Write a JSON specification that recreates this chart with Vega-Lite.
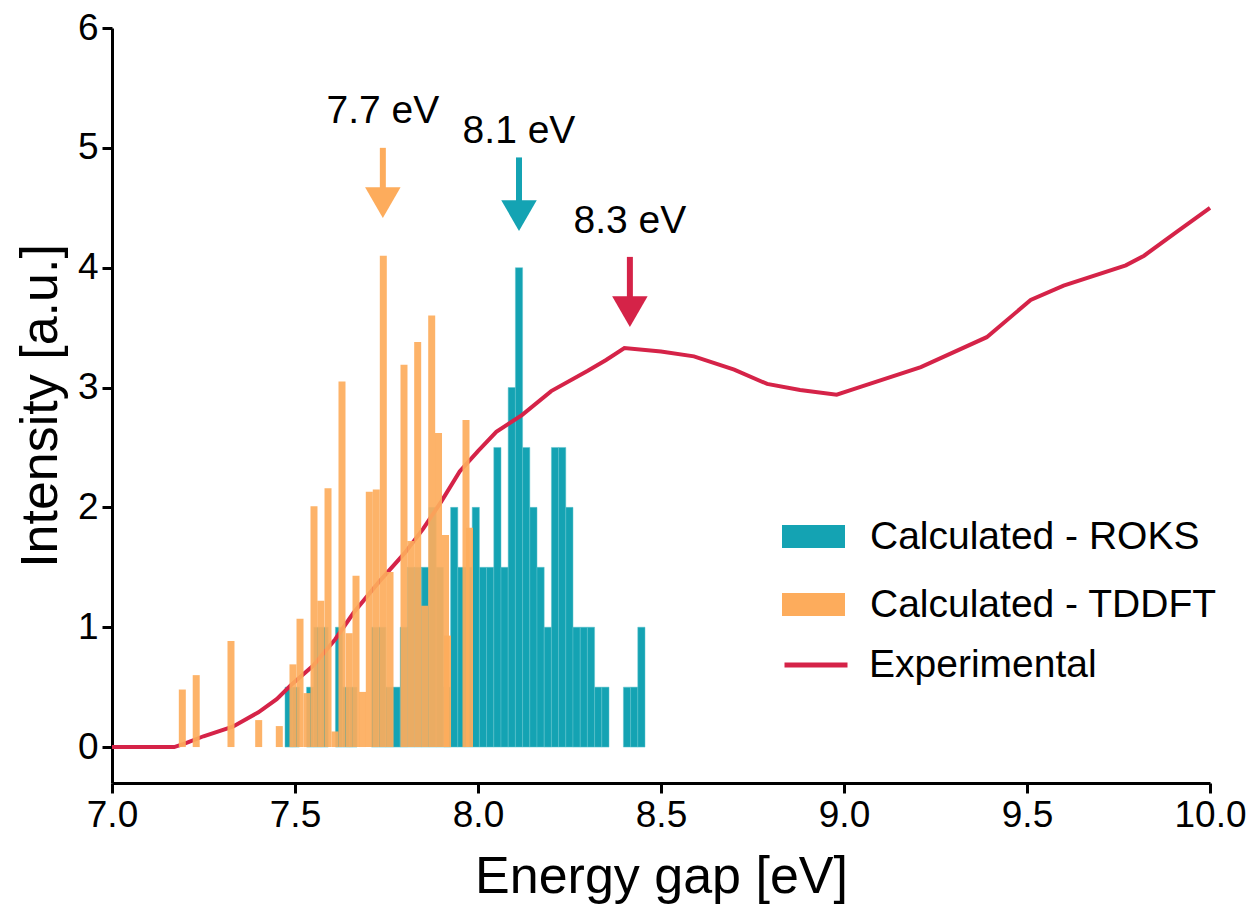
{
  "$schema": "https://vega.github.io/schema/vega-lite/v6.json",
  "width": 1098,
  "height": 755,
  "autosize": {"type": "none"},
  "padding": {"left": 112, "top": 28, "right": 39, "bottom": 126},
  "background": "white",
  "config": {
    "view": {"stroke": null},
    "font": "Liberation Sans",
    "axis": {
      "grid": false,
      "domainColor": "black",
      "domainWidth": 3,
      "tickColor": "black",
      "tickWidth": 3,
      "tickSize": 10,
      "labelColor": "black",
      "labelFont": "Liberation Sans",
      "labelFontSize": 37,
      "labelPadding": 4,
      "labelFlush": false,
      "labelOverlap": false,
      "titleColor": "black",
      "titleFont": "Liberation Sans",
      "titleFontSize": 52,
      "titleFontWeight": "normal"
    },
    "legend": {
      "orient": "none",
      "padding": 0,
      "labelFont": "Liberation Sans",
      "labelFontSize": 39,
      "labelColor": "black",
      "labelOffset": 25,
      "labelLimit": 0
    }
  },
  "datasets": {
    "roks": [
      {"E": 7.4825, "I": 0.5}, {"E": 7.5022, "I": 0.5}, {"E": 7.5415, "I": 0.5},
      {"E": 7.5612, "I": 1.0}, {"E": 7.5809, "I": 1.0}, {"E": 7.6202, "I": 1.0},
      {"E": 7.6399, "I": 0.5}, {"E": 7.6596, "I": 0.5}, {"E": 7.7186, "I": 1.0},
      {"E": 7.7383, "I": 1.0}, {"E": 7.7579, "I": 0.5}, {"E": 7.7776, "I": 0.5},
      {"E": 7.7973, "I": 1.0}, {"E": 7.8169, "I": 1.5}, {"E": 7.8366, "I": 1.5},
      {"E": 7.8563, "I": 1.5}, {"E": 7.8760, "I": 2.0}, {"E": 7.8956, "I": 1.5},
      {"E": 7.9153, "I": 0.5}, {"E": 7.9350, "I": 2.0}, {"E": 7.9546, "I": 1.5},
      {"E": 7.9743, "I": 1.5}, {"E": 7.9940, "I": 2.0}, {"E": 8.0137, "I": 1.5},
      {"E": 8.0333, "I": 1.5}, {"E": 8.0530, "I": 2.5}, {"E": 8.0727, "I": 1.5},
      {"E": 8.0923, "I": 3.0}, {"E": 8.1120, "I": 4.0}, {"E": 8.1317, "I": 2.5},
      {"E": 8.1514, "I": 2.0}, {"E": 8.1710, "I": 1.5}, {"E": 8.1907, "I": 1.0},
      {"E": 8.2104, "I": 2.5}, {"E": 8.2300, "I": 2.5}, {"E": 8.2497, "I": 2.0},
      {"E": 8.2694, "I": 1.0}, {"E": 8.2891, "I": 1.0}, {"E": 8.3087, "I": 1.0},
      {"E": 8.3284, "I": 0.5}, {"E": 8.3481, "I": 0.5}, {"E": 8.4071, "I": 0.5},
      {"E": 8.4268, "I": 0.5}, {"E": 8.4464, "I": 1.0}
    ],
    "tddft": [
      {"E": 7.1921, "I": 0.48}, {"E": 7.2301, "I": 0.60}, {"E": 7.3251, "I": 0.885},
      {"E": 7.4008, "I": 0.225}, {"E": 7.4571, "I": 0.175}, {"E": 7.4945, "I": 0.69},
      {"E": 7.5137, "I": 1.07}, {"E": 7.5328, "I": 0.45}, {"E": 7.5519, "I": 2.01},
      {"E": 7.5705, "I": 1.22}, {"E": 7.5902, "I": 2.16}, {"E": 7.6093, "I": 0.13},
      {"E": 7.6284, "I": 3.05}, {"E": 7.6481, "I": 0.95}, {"E": 7.6667, "I": 1.43},
      {"E": 7.6844, "I": 0.46}, {"E": 7.7030, "I": 2.13}, {"E": 7.7221, "I": 2.15},
      {"E": 7.7413, "I": 4.10}, {"E": 7.7596, "I": 1.46}, {"E": 7.7978, "I": 3.19},
      {"E": 7.8164, "I": 1.72}, {"E": 7.8352, "I": 3.38}, {"E": 7.8544, "I": 1.18},
      {"E": 7.8735, "I": 3.60}, {"E": 7.8921, "I": 2.62}, {"E": 7.9112, "I": 1.77},
      {"E": 7.9167, "I": 0.93}, {"E": 7.9768, "I": 1.83}, {"E": 7.9672, "I": 2.73}
    ],
    "exp": [
      {"E": 7.00, "I": 0}, {"E": 7.17, "I": 0}, {"E": 7.20, "I": 0.03},
      {"E": 7.25, "I": 0.09}, {"E": 7.33, "I": 0.17}, {"E": 7.40, "I": 0.29},
      {"E": 7.45, "I": 0.40}, {"E": 7.49, "I": 0.52}, {"E": 7.55, "I": 0.68},
      {"E": 7.61, "I": 0.90}, {"E": 7.66, "I": 1.12}, {"E": 7.73, "I": 1.38},
      {"E": 7.80, "I": 1.62}, {"E": 7.85, "I": 1.82}, {"E": 7.90, "I": 2.05},
      {"E": 7.95, "I": 2.30}, {"E": 8.00, "I": 2.47}, {"E": 8.05, "I": 2.63},
      {"E": 8.12, "I": 2.77}, {"E": 8.20, "I": 2.97}, {"E": 8.30, "I": 3.14},
      {"E": 8.35, "I": 3.23}, {"E": 8.40, "I": 3.33}, {"E": 8.50, "I": 3.30},
      {"E": 8.59, "I": 3.26}, {"E": 8.70, "I": 3.15}, {"E": 8.79, "I": 3.03},
      {"E": 8.88, "I": 2.98}, {"E": 8.98, "I": 2.94}, {"E": 9.02, "I": 2.98},
      {"E": 9.21, "I": 3.17}, {"E": 9.39, "I": 3.42}, {"E": 9.51, "I": 3.73},
      {"E": 9.60, "I": 3.85}, {"E": 9.77, "I": 4.02}, {"E": 9.82, "I": 4.10},
      {"E": 9.91, "I": 4.30}, {"E": 10.0, "I": 4.50}
    ],
    "ann": [
      {"series": "Calculated - TDDFT", "label": "7.7 eV", "E": 7.740, "yTop": 5.0, "yTri": 4.543, "yText": 5.21},
      {"series": "Calculated - ROKS", "label": "8.1 eV", "E": 8.112, "yTop": 4.92, "yTri": 4.435, "yText": 5.04},
      {"series": "Experimental", "label": "8.3 eV", "E": 8.415, "yTop": 4.09, "yTri": 3.633, "yText": 4.29}
    ]
  },
  "encoding": {
    "x": {
      "type": "quantitative",
      "scale": {"domain": [7, 10], "nice": false, "zero": false, "padding": 0},
      "axis": {"title": "Energy gap [eV]", "values": [7, 7.5, 8, 8.5, 9, 9.5, 10], "format": ".1f", "titlePadding": 18}
    },
    "y": {
      "type": "quantitative",
      "scale": {"domain": [-0.3, 6], "nice": false, "zero": false, "padding": 0},
      "axis": {"title": "Intensity [a.u.]", "values": [0, 1, 2, 3, 4, 5, 6], "format": "d", "titlePadding": 10}
    }
  },
  "layer": [
    {
      "data": {"name": "roks"},
      "mark": {"type": "bar", "width": 7.2, "stroke": "#5fc3cd", "strokeWidth": 0.5},
      "encoding": {
        "x": {"field": "E", "type": "quantitative"},
        "y": {"field": "I", "type": "quantitative"},
        "color": {
          "datum": "Calculated - ROKS",
          "type": "nominal",
          "scale": {
            "domain": ["Calculated - ROKS", "Calculated - TDDFT", "Experimental"],
            "range": ["#14A3B3", "#FDAC5C", "#D52348"]
          },
          "legend": {
            "title": null,
            "values": ["Calculated - ROKS", "Calculated - TDDFT"],
            "legendX": 670,
            "legendY": 477,
            "rowPadding": 16,
            "symbolSize": 3969,
            "symbolStrokeWidth": 0,
            "symbolOpacity": 1,
            "symbolType": "M-1,-0.365H1V0.365H-1Z"
          }
        }
      }
    },
    {
      "data": {"name": "exp"},
      "mark": {"type": "line", "strokeWidth": 4},
      "encoding": {
        "x": {"field": "E", "type": "quantitative"},
        "y": {"field": "I", "type": "quantitative"},
        "stroke": {
          "datum": "Experimental",
          "type": "nominal",
          "scale": {"domain": ["Experimental"], "range": ["#D52348"]},
          "legend": {
            "title": null,
            "legendX": 670,
            "legendY": 603,
            "symbolSize": 3969,
            "symbolType": "stroke",
            "symbolStrokeWidth": 5,
            "symbolOpacity": 1,
            "labelOffset": 19
          }
        }
      }
    },
    {
      "data": {"name": "tddft"},
      "mark": {"type": "bar", "width": 7, "opacity": 0.92},
      "encoding": {
        "x": {"field": "E", "type": "quantitative"},
        "y": {"field": "I", "type": "quantitative"},
        "color": {"datum": "Calculated - TDDFT", "type": "nominal", "legend": null}
      }
    },
    {
      "data": {"name": "ann"},
      "mark": {"type": "rule", "strokeWidth": 6},
      "encoding": {
        "x": {"field": "E", "type": "quantitative"},
        "y": {"field": "yTop", "type": "quantitative"},
        "y2": {"field": "yTri"},
        "color": {"field": "series", "type": "nominal", "legend": null}
      }
    },
    {
      "data": {"name": "ann"},
      "mark": {"type": "point", "shape": "triangle-down", "filled": true, "size": 1260, "opacity": 1, "strokeWidth": 0},
      "encoding": {
        "x": {"field": "E", "type": "quantitative"},
        "y": {"field": "yTri", "type": "quantitative"},
        "color": {"field": "series", "type": "nominal", "legend": null}
      }
    },
    {
      "data": {"name": "ann"},
      "mark": {"type": "text", "fontSize": 39, "font": "Liberation Sans", "align": "center", "baseline": "alphabetic", "color": "black"},
      "encoding": {
        "x": {"field": "E", "type": "quantitative"},
        "y": {"field": "yText", "type": "quantitative"},
        "text": {"field": "label"}
      }
    }
  ]
}
